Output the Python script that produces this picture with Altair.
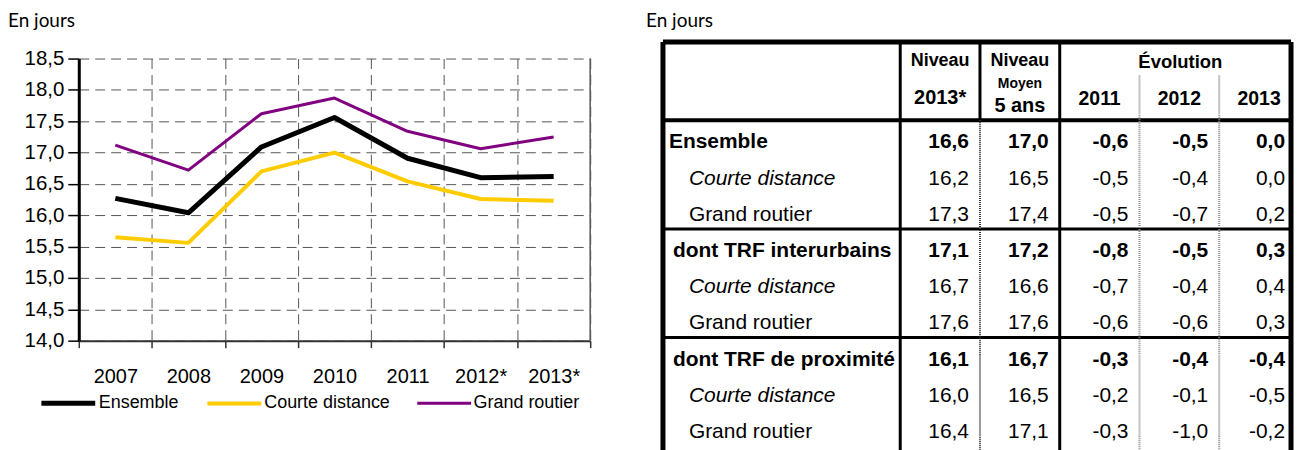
import altair as alt
import pandas as pd

# ---------------- Data: line chart ----------------
years = ["2007", "2008", "2009", "2010", "2011", "2012*", "2013*"]
ensemble = [16.27, 16.04, 17.09, 17.56, 16.91, 16.60, 16.62]
courte_distance = [15.65, 15.56, 16.70, 17.00, 16.54, 16.26, 16.23]
grand_routier = [17.12, 16.72, 17.62, 17.87, 17.34, 17.06, 17.25]
series_names = ["Ensemble", "Courte distance", "Grand routier"]
y_ticks = [14.0, 14.5, 15.0, 15.5, 16.0, 16.5, 17.0, 17.5, 18.0, 18.5]
unit_label = "En jours"

# ---------------- Data: table ----------------
row_labels = ["Ensemble", "Courte distance", "Grand routier",
              "dont TRF interurbains", "Courte distance", "Grand routier",
              "dont TRF de proximité", "Courte distance", "Grand routier"]
row_levels = [0, 2, 2, 1, 2, 2, 1, 2, 2]
niveau_2013 = [16.6, 16.2, 17.3, 17.1, 16.7, 17.6, 16.1, 16.0, 16.4]
niveau_moyen_5ans = [17.0, 16.5, 17.4, 17.2, 16.6, 17.6, 16.7, 16.5, 17.1]
evol_2011 = [-0.6, -0.5, -0.5, -0.8, -0.7, -0.6, -0.3, -0.2, -0.3]
evol_2012 = [-0.5, -0.4, -0.7, -0.5, -0.4, -0.6, -0.4, -0.1, -1.0]
evol_2013 = [0.0, 0.0, 0.2, 0.3, 0.4, 0.3, -0.4, -0.5, -0.2]
header_top = ["Niveau", "Niveau", "Évolution"]
header_sub = ["2013*", "Moyen", "5 ans", "2011", "2012", "2013"]

# ---------------- Styles ----------------
FONT = "Liberation Sans"
TITLE_FONT = "Lato"
SERIES_COLORS = ["#000000", "#FFCC00", "#800080"]
SERIES_WIDTHS = [5, 3, 3.5]
GRID = dict(grid=True, gridColor="#555555", gridDash=[10, 6], gridWidth=1)

# ---------------- Line chart ----------------
line_df = pd.DataFrame(
    [{"year": y, "series": s, "value": v}
     for s, vals in zip(series_names, [ensemble, courte_distance, grand_routier])
     for y, v in zip(years, vals)]
)

x_scale = alt.Scale(type="band", paddingInner=0, paddingOuter=0)
x_axis = alt.Axis(title=None, labelAngle=0, tickBand="extent", **GRID,
                  domainColor="#333333", domainWidth=2, tickColor="#333333",
                  tickSize=7, tickWidth=1.5, labelFont=FONT, labelFontSize=20,
                  labelColor="black", labelPadding=19)
y_axis = alt.Axis(title=None, values=y_ticks,
                  labelExpr="replace(format(datum.value, '.1f'), '.', ',')",
                  **GRID, domainColor="black", domainWidth=3, tickColor="black",
                  tickSize=11, tickWidth=1.5, labelFont=FONT, labelFontSize=20.5,
                  labelColor="black", labelPadding=4)
legend = alt.Legend(title=None, orient="none", legendX=-40, legendY=316,
                    direction="horizontal", symbolType="stroke", symbolSize=2916,
                    labelFont=FONT, labelFontSize=18, labelColor="black",
                    labelOffset=1, columnPadding=20, padding=0)

lines = alt.Chart(line_df).mark_line(strokeJoin="round").encode(
    x=alt.X("year:N", sort=years, bandPosition=0.5, scale=x_scale, axis=x_axis),
    y=alt.Y("value:Q", scale=alt.Scale(domain=[14, 18.5], nice=False, zero=False), axis=y_axis),
    color=alt.Color("series:N", sort=series_names,
                    scale=alt.Scale(domain=series_names, range=SERIES_COLORS), legend=legend),
    strokeWidth=alt.StrokeWidth("series:N", sort=series_names,
                                scale=alt.Scale(domain=series_names, range=SERIES_WIDTHS),
                                legend=legend),
)
edge = alt.Chart(pd.DataFrame({"year": [years[-1]]})).mark_rule(
    color="#555555", strokeWidth=1.5
).encode(x=alt.X("year:N", sort=years, bandPosition=1, scale=x_scale))

left = alt.layer(lines, edge).properties(
    width=513, height=283,
    title=alt.TitleParams(unit_label, anchor="start", frame="group", dx=-71, offset=18,
                          font=TITLE_FONT, fontSize=19, fontWeight="normal", color="black"),
)

# ---------------- Table ----------------
# last column is slightly narrower so that the page does not overflow the window
COL_WIDTHS = [238, 80, 80, 80, 80, 72]
edges = [0]
for w in COL_WIDTHS:
    edges.append(edges[-1] + w)
TW = edges[-1]
ROW_PX = 36.3
HDR = 78.5 / ROW_PX
N_ROWS = len(row_labels)
BOTTOM = HDR + N_ROWS + 0.3
TOP_SHIFT = 16.5 / ROW_PX          # table box starts above the line chart's plot top
DOT_START = 33.5 / ROW_PX
LEVEL_INDENT = {0: 6, 1: 10, 2: 26}
NUM_PAD = [11, 11, 11, 11, 6]
centers = [(edges[i] + edges[i + 1]) / 2 for i in range(len(COL_WIDTHS))]

def fmt(v):
    return f"{v:.1f}".replace(".", ",")

solid = [
    (0, 0, TW, 0, 5), (0, 0, 0, BOTTOM, 5), (TW, 0, TW, BOTTOM, 5),
    (edges[1], 0, edges[1], HDR, 3), (edges[2], 0, edges[2], HDR, 3),
    (edges[3], 0, edges[3], HDR, 3),
    (0, HDR, TW, HDR, 4),
    (edges[1], HDR, edges[1], BOTTOM, 3), (edges[3], HDR, edges[3], BOTTOM, 3),
    (0, HDR + 3, TW, HDR + 3, 3), (0, HDR + 6, TW, HDR + 6, 3),
]
solid_df = pd.DataFrame(solid, columns=["x", "y", "x2", "y2", "w"])
dark_dot_df = pd.DataFrame([(edges[2], HDR, edges[2], BOTTOM)], columns=["x", "y", "x2", "y2"])
gray_dot_df = pd.DataFrame([(edges[4], DOT_START, edges[4], BOTTOM),
                            (edges[5], DOT_START, edges[5], BOTTOM)],
                           columns=["x", "y", "x2", "y2"])

tx = alt.Scale(domain=[0, TW])
ty = alt.Scale(domain=[TOP_SHIFT, BOTTOM], reverse=True)
TH = (BOTTOM - TOP_SHIFT) * ROW_PX

def rules(df, **kw):
    enc = dict(x=alt.X("x:Q", scale=tx, axis=None), y=alt.Y("y:Q", scale=ty, axis=None),
               x2="x2:Q", y2="y2:Q")
    if "w" in df.columns:
        enc["strokeWidth"] = alt.StrokeWidth("w:Q", scale=None)
    return alt.Chart(df).mark_rule(**kw).encode(**enc)

hdr_rows = [
    (header_top[0], centers[1], 0.52, 18), (header_sub[0], centers[1], 1.55, 20),
    (header_top[1], centers[2], 0.52, 18), (header_sub[1], centers[2], 1.17, 14),
    (header_sub[2], centers[2], 1.76, 20),
    (header_top[2], (edges[3] + edges[6]) / 2 + 5, 0.54, 18.5),
    (header_sub[3], centers[3], 1.58, 19.5), (header_sub[4], centers[4], 1.58, 19.5),
    (header_sub[5], centers[5] + 4, 1.58, 19.5),
]
hdr_df = pd.DataFrame(hdr_rows, columns=["text", "x", "y", "fs"])
header = alt.Chart(hdr_df).mark_text(font=FONT, fontWeight="bold", color="black",
                                     align="center", baseline="middle").encode(
    x=alt.X("x:Q", scale=tx, axis=None), y=alt.Y("y:Q", scale=ty, axis=None),
    text="text:N", size=alt.Size("fs:Q", scale=None))

body = []
for i, (lab, lev) in enumerate(zip(row_labels, row_levels)):
    style = "bold" if lev < 2 else ("italic" if lab == "Courte distance" else "normal")
    body.append({"text": lab, "x": LEVEL_INDENT[lev], "y": HDR + i + 0.5, "style": style, "kind": "label"})
    for c, col in enumerate([niveau_2013, niveau_moyen_5ans, evol_2011, evol_2012, evol_2013]):
        body.append({"text": fmt(col[i]), "x": edges[c + 2] - NUM_PAD[c], "y": HDR + i + 0.5,
                     "style": "bold" if lev < 2 else "normal", "kind": "num"})
body_df = pd.DataFrame(body)

def body_layer(kind, style, align):
    kw = dict(font=FONT, fontSize=21, color="black", align=align, baseline="middle", dy=4)
    if style == "bold":
        kw["fontWeight"] = "bold"
    if style == "italic":
        kw["fontStyle"] = "italic"
    return alt.Chart(body_df).transform_filter(
        (alt.datum.kind == kind) & (alt.datum.style == style)
    ).mark_text(**kw).encode(
        x=alt.X("x:Q", scale=tx, axis=None), y=alt.Y("y:Q", scale=ty, axis=None), text="text:N")

table = alt.layer(
    rules(solid_df, color="black"),
    rules(dark_dot_df, color="#333333", strokeWidth=2, strokeDash=[1, 1]),
    rules(gray_dot_df, color="#8a8a8a", strokeWidth=2, strokeDash=[1, 1]),
    header,
    body_layer("label", "bold", "left"),
    body_layer("label", "italic", "left"),
    body_layer("label", "normal", "left"),
    body_layer("num", "bold", "right"),
    body_layer("num", "normal", "right"),
).properties(
    width=TW, height=TH,
    title=alt.TitleParams(unit_label, anchor="start", frame="group", dx=-17, offset=9,
                          font=TITLE_FONT, fontSize=19, fontWeight="normal", color="black"),
)

chart = alt.hconcat(left, table, spacing=55).properties(
    padding={"left": 0, "top": 3, "right": 0, "bottom": 0}
).configure_view(stroke=None)

chart.save("out.html", embed_options={"renderer": "svg", "actions": False})
